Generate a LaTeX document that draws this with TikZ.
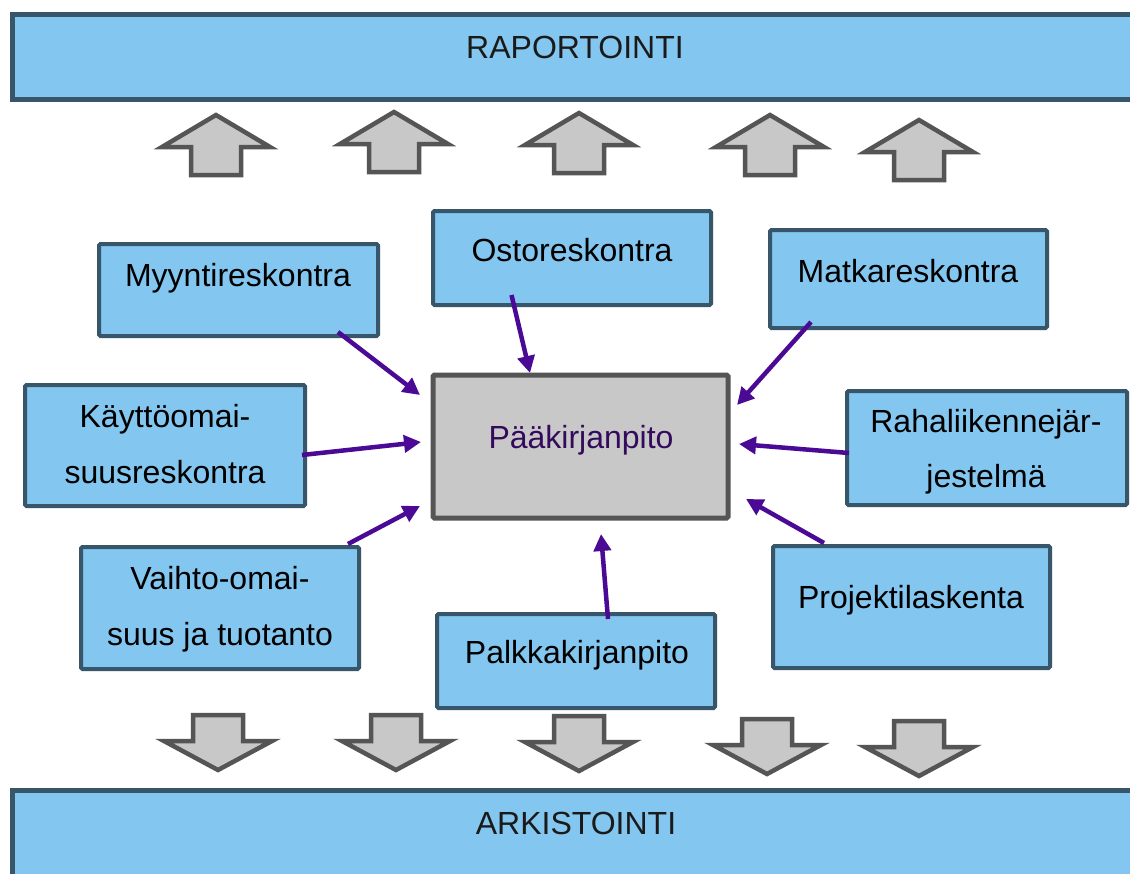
\documentclass[tikz,border=0pt]{standalone}
\usepackage{fontspec}
\setmainfont{Liberation Sans}
\usetikzlibrary{arrows.meta}
\definecolor{boxfill}{HTML}{83C6EF}
\definecolor{boxline}{HTML}{38566A}
\definecolor{grayfill}{HTML}{C8C8C8}
\definecolor{grayline}{HTML}{555555}
\definecolor{conncol}{HTML}{4B0A96}
\definecolor{maintext}{HTML}{330A5C}
\definecolor{bartext}{HTML}{1A1A1A}
\tikzset{
  bluebox/.style={draw=boxline, fill=boxfill, line width=4pt, rounded corners=1.5pt, inner sep=0pt},
  mainbox/.style={draw=grayline, fill=grayfill, line width=5pt, rounded corners=1.5pt, inner sep=0pt},
  bar/.style={draw=boxline, fill=boxfill, line width=5pt},
  lbl/.style={font=\fontsize{32}{38}\selectfont, inner sep=0pt, anchor=base, text=black},
  conn/.style={draw=conncol, line width=4.5pt, -{Triangle[length=17pt,width=17pt]}},
  blockarr/.style={draw=grayline, fill=grayfill, line width=4.5pt, line join=miter},
  uparrowpic/.pic={\path[blockarr] (0,0)--(54,32)--(25,32)--(25,60)--(-25,60)--(-25,32)--(-54,32)--cycle;},
  downarrowpic/.pic={\path[blockarr] (0,0)--(54,-29)--(25,-29)--(25,-55)--(-25,-55)--(-25,-29)--(-54,-29)--cycle;}
}
\begin{document}
\begin{tikzpicture}[x=1pt,y=-1pt]
\useasboundingbox (0,0) rectangle (1130,873);
\clip (0,0) rectangle (1130,873);
\fill[white] (0,0) rectangle (1130,873);

% bars
\path[bar] (12,14.5) rectangle (1145,99.5);
\node[lbl, text=bartext] (rap) at (575,58) {RAPORTOINTI};
\path[bar] (12,790.5) rectangle (1145,890);
\node[lbl, text=bartext] (ark) at (576,834) {ARKISTOINTI};

% block arrows
\pic at (216,115) {uparrowpic};
\pic at (394,112) {uparrowpic};
\pic at (579,113) {uparrowpic};
\pic at (770,115) {uparrowpic};
\pic at (919,120) {uparrowpic};
\pic at (218,770) {downarrowpic};
\pic at (396,770) {downarrowpic};
\pic at (579,771) {downarrowpic};
\pic at (767,774) {downarrowpic};
\pic at (919,776) {downarrowpic};

% boxes
\node[bluebox, minimum width=279pt, minimum height=92pt] (myy) at (238.5,290) {};
\node[bluebox, minimum width=278pt, minimum height=94pt] (osto) at (572,258) {};
\node[bluebox, minimum width=277pt, minimum height=98pt] (matka) at (908.5,279) {};
\node[bluebox, minimum width=280pt, minimum height=121pt] (kaytto) at (165,445.5) {};
\node[bluebox, minimum width=280pt, minimum height=114pt] (raha) at (987,448) {};
\node[bluebox, minimum width=278pt, minimum height=122pt] (vaihto) at (220,608) {};
\node[bluebox, minimum width=278pt, minimum height=94pt] (palkka) at (576,661) {};
\node[bluebox, minimum width=277pt, minimum height=122pt] (projekti) at (911.5,607) {};
\node[mainbox, minimum width=295pt, minimum height=143pt] (paa) at (580.5,446.5) {};

% labels
\node[lbl] (myyT) at (238,286) {Myyntireskontra};
\node[lbl] (ostoT) at (572,261) {Ostoreskontra};
\node[lbl] (matkaT) at (908,282) {Matkareskontra};
\node[lbl] (kayttoT1) at (165,427) {Käyttöomai-};
\node[lbl] (kayttoT2) at (165,483) {suusreskontra};
\node[lbl] (rahaT1) at (986,432) {Rahaliikennejär-};
\node[lbl] (rahaT2) at (986,487) {jestelmä};
\node[lbl] (vaihtoT1) at (220,589) {Vaihto-omai-};
\node[lbl] (vaihtoT2) at (220,645) {suus ja tuotanto};
\node[lbl] (palkkaT) at (577,663) {Palkkakirjanpito};
\node[lbl] (projektiT) at (911,608) {Projektilaskenta};
\node[lbl, text=maintext] (paaT) at (581,448) {Pääkirjanpito};

% connector end points
\coordinate (myyS) at (338,332);
\coordinate (myyE) at (420,395);
\coordinate (ostoS) at (511.5,295);
\coordinate (ostoE) at (530,373);
\coordinate (matkaS) at (811,322);
\coordinate (matkaE) at (737,405);
\coordinate (kayttoS) at (302,455);
\coordinate (kayttoE) at (421,442);
\coordinate (rahaS) at (849,453);
\coordinate (rahaE) at (739,444);
\coordinate (vaihtoS) at (348,544);
\coordinate (vaihtoE) at (420,506);
\coordinate (palkkaS) at (608,619);
\coordinate (palkkaE) at (601,534);
\coordinate (projektiS) at (824,543);
\coordinate (projektiE) at (746,499);

\draw[conn] (myyS) -- (myyE);
\draw[conn] (ostoS) -- (ostoE);
\draw[conn] (matkaS) -- (matkaE);
\draw[conn] (kayttoS) -- (kayttoE);
\draw[conn] (rahaS) -- (rahaE);
\draw[conn] (vaihtoS) -- (vaihtoE);
\draw[conn] (palkkaS) -- (palkkaE);
\draw[conn] (projektiS) -- (projektiE);
\end{tikzpicture}
\end{document}
